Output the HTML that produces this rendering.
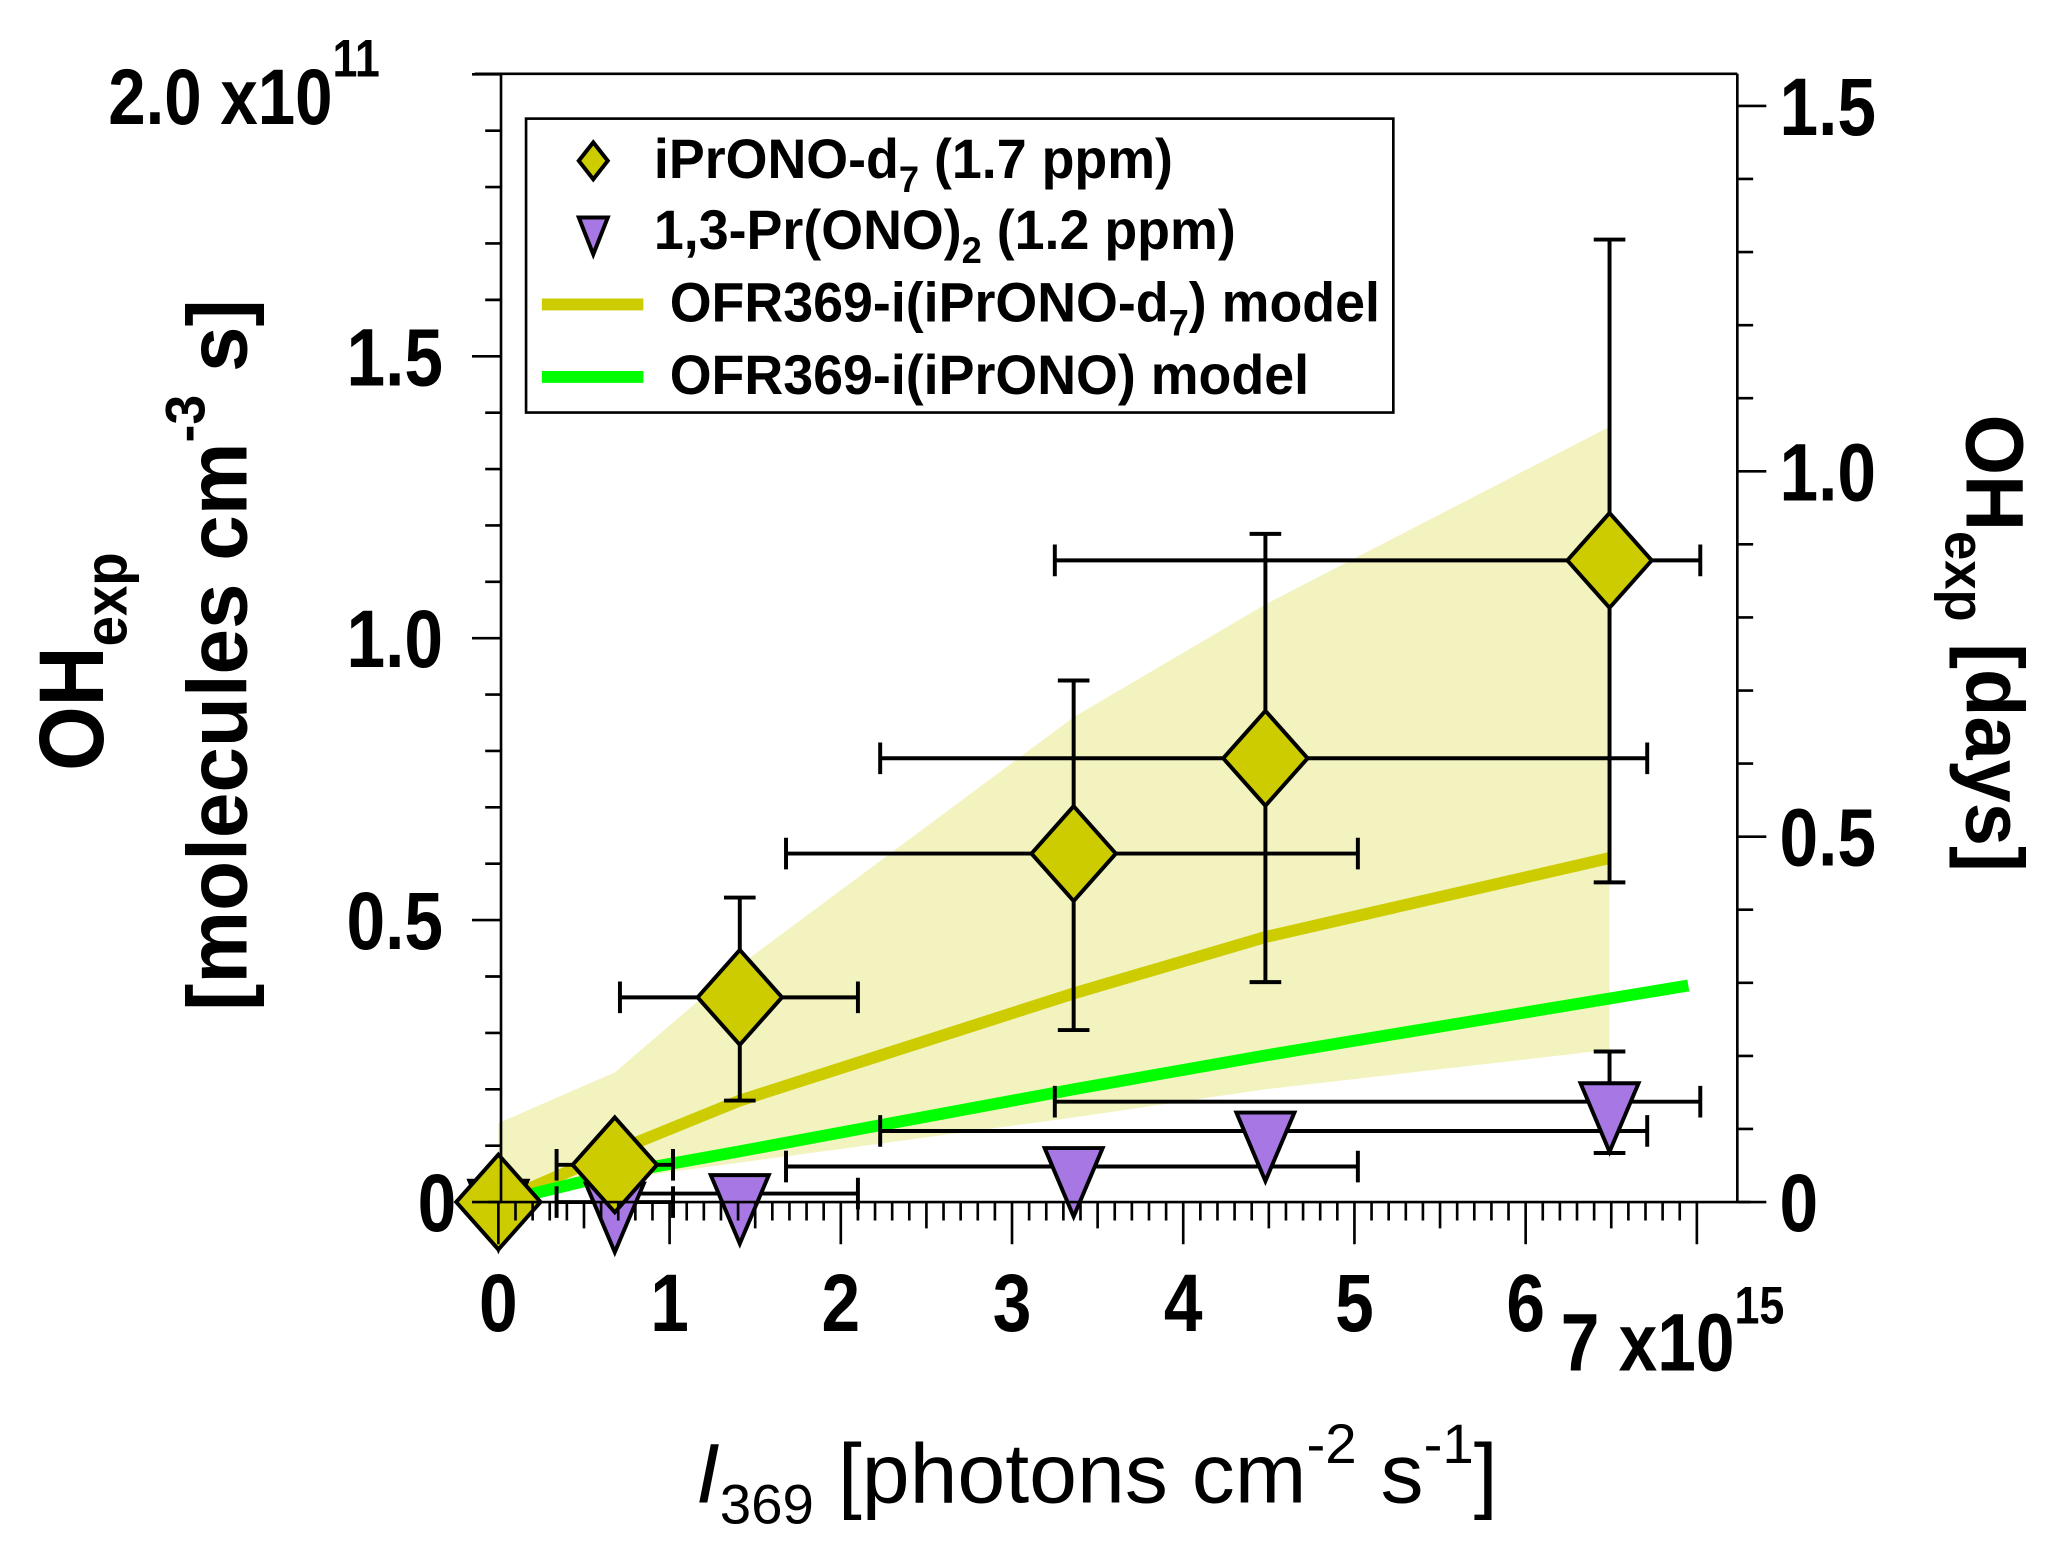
<!DOCTYPE html>
<html><head><meta charset="utf-8"><style>
html,body{margin:0;padding:0;background:#fff;}
svg{display:block;}
text{font-family:"Liberation Sans",Arial,sans-serif;}
</style></head><body>
<svg id="chart" width="2067" height="1550" viewBox="0 0 1568 1176" xmlns="http://www.w3.org/2000/svg">
<g id="band"></g>
<g id="lines"></g>
<g id="errs"></g>
<g id="marks"></g>
<g id="axes"></g>
<g>
  <rect x="399" y="90" width="658" height="223" fill="#fff" stroke="#000" stroke-width="2"/>
  <polygon points="450,108 461,122 450,136 439,122" fill="#cccc00" stroke="#000" stroke-width="3"/>
  <text transform="translate(496,135) scale(1.02,1.05)" font-size="40" font-weight="bold">iPrONO-d<tspan font-size="27" dy="10">7</tspan><tspan dy="-10"> (1.7 ppm)</tspan></text>
  <polygon points="439,165 461,165 450,193" fill="#a777e3" stroke="#000" stroke-width="3"/>
  <text transform="translate(496,189) scale(1.02,1.05)" font-size="40" font-weight="bold">1,3-Pr(ONO)<tspan font-size="27" dy="10">2</tspan><tspan dy="-10"> (1.2 ppm)</tspan></text>
  <line x1="411" y1="231" x2="488" y2="231" stroke="#cccc00" stroke-width="9"/>
  <text transform="translate(508,244) scale(1.02,1.05)" font-size="40" font-weight="bold">OFR369-i(iPrONO-d<tspan font-size="27" dy="10">7</tspan><tspan dy="-10">) model</tspan></text>
  <line x1="411" y1="286" x2="488" y2="286" stroke="#00ff00" stroke-width="9"/>
  <text transform="translate(508,299) scale(1.02,1.05)" font-size="40" font-weight="bold">OFR369-i(iPrONO) model</text>
</g>
<text transform="translate(82,94) scale(0.85,1)" font-size="60" font-weight="bold">2.0 x10<tspan font-size="40" dy="-36">11</tspan></text>
<text transform="translate(1184,1040) scale(0.85,1)" font-size="62" font-weight="bold">7 x10<tspan font-size="40" dy="-36">15</tspan></text>
<g transform="translate(78,502) rotate(-90) scale(0.9,1)">
  <text text-anchor="middle" font-size="70" font-weight="bold">OH<tspan font-size="46" dy="18">exp</tspan></text>
</g>
<g transform="translate(187,497) rotate(-90) scale(0.97,1)">
  <text text-anchor="middle" font-size="64" font-weight="bold">[molecules cm<tspan font-size="42" dy="-32">-3</tspan><tspan dy="32"> s]</tspan></text>
</g>
<g transform="translate(1492,488) rotate(90) scale(0.95,1)">
  <text text-anchor="middle" font-size="62" font-weight="bold">OH<tspan font-size="42" dy="16">exp</tspan><tspan dy="-16"> [days]</tspan></text>
</g>
<text transform="translate(832,1140) scale(1.02,1)" text-anchor="middle" font-size="64"><tspan font-style="italic">I</tspan><tspan font-size="42" dy="16">369</tspan><tspan dy="-16"> [photons cm</tspan><tspan font-size="42" dy="-30">-2</tspan><tspan dy="30"> s</tspan><tspan font-size="42" dy="-30">-1</tspan><tspan dy="30">]</tspan></text>
</svg>
<script>
// data (x in 1e15 photons cm-2 s-1, y in 1e11 molecules cm-3 s)
const dX = [0, 0.68, 1.41, 3.36, 4.48, 6.49];
const dY = [0, 0.066, 0.363, 0.618, 0.787, 1.138];
const dXlo = [0, 0.34, 0.71, 1.68, 2.23, 3.25];
const dXhi = [0, 1.02, 2.1, 5.02, 6.71, 7.02];
const dYlo = [0, 0.066, 0.18, 0.305, 0.39, 0.567];
const dYhi = [0, 0.066, 0.54, 0.925, 1.185, 1.707];
const tX = [0, 0.68, 1.41, 3.36, 4.48, 6.49];
const tY = [0.005, 0.0, 0.015, 0.063, 0.126, 0.178];
const tXlo = [0, 0.34, 0.71, 1.68, 2.23, 3.25];
const tXhi = [0, 1.02, 2.1, 5.02, 6.71, 7.02];
const tYlo = [0.005, 0, 0.015, 0.063, 0.11, 0.087];
const tYhi = [0.005, 0, 0.015, 0.063, 0.14, 0.267];
const bandX = [0, 0.68, 1.41, 3.36, 4.48, 6.49];
const bandHi = [0.14, 0.23, 0.42, 0.86, 1.06, 1.375];
const bandLo = [0.02, 0.04, 0.07, 0.15, 0.2, 0.27];
const yelX = [0, 0.68, 1.41, 3.36, 4.48, 6.49];
const yelY = [0, 0.09, 0.18, 0.37, 0.47, 0.61];
const grnX = [0, 0.68, 1.41, 3.36, 4.48, 6.95];
const grnY = [0, 0.05, 0.09, 0.2, 0.26, 0.384];
const xTicks = ["0","1","2","3","4","5","6"];
const yTicks = ["0","0.5","1.0","1.5"];
const rTicks = ["0","0.5","1.0","1.5"];

const X0=378, XS=129.9, Y0=912, YS=427.8, L=380, R=1318, T=56;
const DAYS=1.5e6*86400/1e11;
const sx=v=>X0+v*XS, sy=v=>Y0-v*YS, sr=d=>Y0-d*DAYS*YS;
const NS="http://www.w3.org/2000/svg";
function mk(p,tag,at){const e=document.createElementNS(NS,tag);for(const k in at)e.setAttribute(k,at[k]);p.appendChild(e);return e;}
const g=id=>document.getElementById(id);

let pts=bandX.map((x,i)=>sx(x)+","+sy(bandHi[i]));
for(let i=bandX.length-1;i>=0;i--)pts.push(sx(bandX[i])+","+sy(bandLo[i]));
const band=mk(g('band'),'polygon',{points:pts.join(" "),fill:"#f3f3c0"});



const yl=mk(g('lines'),'polyline',{points:yelX.map((x,i)=>sx(x)+","+sy(yelY[i])).join(" "),fill:"none",stroke:"#cccc00","stroke-width":9});


const gl=mk(g('lines'),'polyline',{points:grnX.map((x,i)=>sx(x)+","+sy(grnY[i])).join(" "),fill:"none",stroke:"#00ff00","stroke-width":9});



function errs(X,Y,xlo,xhi,ylo,yhi,name){
  for(let i=0;i<X.length;i++){
    const cx=sx(X[i]),cy=sy(Y[i]);
    if(xhi[i]>xlo[i]){
      const e=mk(g('errs'),'path',{d:`M${sx(xlo[i])},${cy}H${sx(xhi[i])}M${sx(xlo[i])},${cy-12}v24M${sx(xhi[i])},${cy-12}v24`,stroke:"#000","stroke-width":3,fill:"none"});
      
      
    }
    if(yhi[i]>ylo[i]){
      const e=mk(g('errs'),'path',{d:`M${cx},${sy(ylo[i])}V${sy(yhi[i])}M${cx-12},${sy(ylo[i])}h24M${cx-12},${sy(yhi[i])}h24`,stroke:"#000","stroke-width":3,fill:"none"});
      
      
    }
  }
}
errs(tX,tY,tXlo,tXhi,tYlo,tYhi,'pr-ono2');
errs(dX,dY,dXlo,dXhi,dYlo,dYhi,'iprono-d7');
for(let i=0;i<tX.length;i++){
  const cx=sx(tX[i]),cy=sy(tY[i]);
  const t=mk(g('marks'),'polygon',{points:`${cx-22},${cy-14} ${cx+22},${cy-14} ${cx},${cy+38}`,fill:"#a777e3",stroke:"#000","stroke-width":3});
  
  
}
for(let i=0;i<dX.length;i++){
  const cx=sx(dX[i]),cy=sy(dY[i]);
  const d=mk(g('marks'),'polygon',{points:`${cx},${cy-36} ${cx+32},${cy} ${cx},${cy+36} ${cx-32},${cy}`,fill:"#cccc00",stroke:"#000","stroke-width":3});
  
  
}

const A=g('axes');
const frame=mk(A,'path',{d:`M${L},${Y0}V${T}M${R},${Y0}V${T}M${L-10},${Y0}H${R+10}`,stroke:"#000","stroke-width":2,fill:"none"});


const topl=mk(A,'line',{x1:L-20,y1:T,x2:R,y2:T,stroke:"#000","stroke-width":2});


let d="";
for(let k=0;k<=70;k++){const v=k/10,x=sx(v);if(x>R)break;const len=k%10==0?32:(k%5==0?20:14);d+=`M${x},${Y0}v${len}`;}
for(let k=0;k<=20;k++){const v=k/10,y=sy(v);const len=k%5==0?22:12;d+=`M${L},${y}h${-len}`;}
for(let k=0;k<=15;k++){const v=k/10,y=sr(v);const len=k%5==0?22:12;d+=`M${R},${y}h${len}`;}
const ticks=mk(A,'path',{d:d,stroke:"#000","stroke-width":2,fill:"none"});


function lab(s,x,y,anchor){return mk(A,'text',{transform:`translate(${x},${y}) scale(0.85,1)`,"text-anchor":anchor,"font-size":62,"font-weight":"bold"});}
xTicks.forEach((s,i)=>{const t=lab(s,sx(+s),1010,"middle");t.textContent=s;
 
 });
yTicks.forEach((s,i)=>{const t=lab(s,s=="0"?346:336,sy(+s)+22,"end");t.textContent=s;
 
 });
rTicks.forEach((s,i)=>{const t=lab(s,1350,sr(+s)+22,"start");t.textContent=s;
 
 });
</script>
</body></html>
